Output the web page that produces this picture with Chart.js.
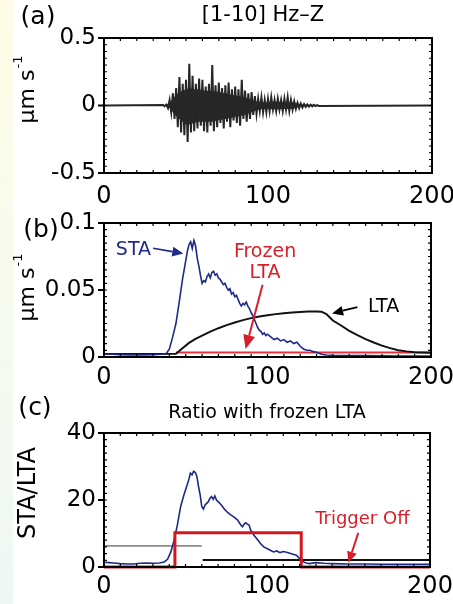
<!DOCTYPE html>
<html lang="en">
<head>
<meta charset="UTF-8">
<title>STA/LTA trigger</title>
<style>
  body { margin: 0; background: #fff; }
  #page { position: relative; width: 453px; height: 604px; background: #fff; overflow: hidden; }
  #edge { position: absolute; left: 0; top: 0; width: 13px; height: 604px;
          background: linear-gradient(#fffbe6, #f6fbee 50%, #eef8f3); }
  .panel { position: absolute; left: 0; }
  .panel canvas { display: block; }
</style>
<script src="https://cdn.jsdelivr.net/npm/chart.js"></script>
</head>
<body>
<div id="page">
  <div id="edge"></div>
  <div class="panel" style="top:0"><canvas id="chartA" width="453" height="205"></canvas></div>
  <div class="panel" style="top:205px"><canvas id="chartB" width="453" height="190"></canvas></div>
  <div class="panel" style="top:395px"><canvas id="chartC" width="453" height="209"></canvas></div>
</div>
<script>
// axis ticks
const xTicks = [0, 100, 200];
const aTicks = [-0.5, 0, 0.5];
const aTickLabels = ['-0.5', '0', '0.5'];
const bTicks = [0, 0.05, 0.1];
const bTickLabels = ['0', '0.05', '0.1'];
const cTicks = [0, 20, 40];
const cTickLabels = ['0', '20', '40'];

// (a) vertical velocity [1-10] Hz, one sample per second from seisStart
const seisStart = 36;
const seisValues = [
  0.004, -0.005, 0.006, -0.02, 0.04, -0.05, 0.09, -0.1, 0.13, -0.16,
  0.21, -0.2, 0.16, -0.22, 0.19, -0.27, 0.31, -0.2, 0.22, -0.19,
  0.16, -0.17, 0.2, -0.15, 0.19, -0.19, 0.14, -0.2, 0.16, -0.15,
  0.3, -0.19, 0.15, -0.16, 0.17, -0.13, 0.13, -0.17, 0.15, -0.12,
  0.17, -0.16, 0.12, -0.11, 0.14, -0.13, 0.12, -0.15, 0.19, -0.1,
  0.11, -0.12, 0.09, -0.1, 0.1, -0.07, 0.07, -0.06, 0.05, -0.04,
  0.06, -0.05, 0.04, -0.05, 0.05, -0.04, 0.06, -0.03, 0.04, -0.04,
  0.05, -0.03, 0.04, -0.04, 0.05, -0.03, 0.06, -0.04, 0.04, -0.03,
  0.03, -0.025, 0.02, -0.02, 0.015, -0.015, 0.01, -0.01, 0.008, -0.008,
  0.006, -0.006, 0.005, -0.004, 0.003, -0.003
];
// dense core of the wavetrain (upper / lower envelope)
const bodyT = [38, 40, 42, 44, 46, 48, 50, 52, 55, 58, 62, 66, 70, 74, 78, 82, 86, 90, 93, 96,
  100, 105, 110, 115, 118, 121, 125, 130];
const bodyTop = [0.005, 0.02, 0.05, 0.08, 0.1, 0.11, 0.12, 0.13, 0.12, 0.12, 0.11, 0.11, 0.1, 0.09,
  0.08, 0.07, 0.06, 0.045, 0.03, 0.025, 0.025, 0.03, 0.025, 0.025, 0.015, 0.01, 0.005, 0.003];
const bodyBottom = [-0.005, -0.02, -0.05, -0.08, -0.1, -0.12, -0.14, -0.14, -0.13, -0.12, -0.12, -0.12,
  -0.11, -0.1, -0.09, -0.08, -0.07, -0.05, -0.035, -0.025, -0.025, -0.03, -0.025, -0.025, -0.015,
  -0.01, -0.005, -0.003];

// (b) short and long term averages
const staT = [0, 5, 10, 15, 20, 25, 30, 35, 38, 40, 42, 44, 46, 48, 50, 51, 52, 53, 54, 55,
  56, 57, 58, 59, 60, 61, 62, 63, 64, 65, 66, 67, 68, 69, 70, 71, 72, 73, 74, 75,
  76, 77, 78, 79, 80, 81, 82, 83, 84, 85, 86, 87, 88, 89, 90, 91, 92, 93, 94, 95,
  96, 97, 98, 99, 100, 102, 104, 106, 108, 110, 112, 114, 116, 118, 120, 122, 124, 126, 128, 130,
  133, 136, 140, 150, 160, 170, 180, 190, 200];
const staV = [0.0022, 0.002, 0.0018, 0.0016, 0.0015, 0.0016, 0.0018, 0.002, 0.0025, 0.006,
  0.015, 0.025, 0.041, 0.058, 0.072, 0.079, 0.084, 0.086, 0.081, 0.087,
  0.083, 0.074, 0.068, 0.061, 0.055, 0.057, 0.056, 0.06, 0.062, 0.059,
  0.063, 0.064, 0.061, 0.062, 0.059, 0.058, 0.056, 0.054, 0.055, 0.052,
  0.05, 0.051, 0.047, 0.048, 0.045, 0.046, 0.043, 0.04, 0.038, 0.04,
  0.039, 0.041, 0.038, 0.036, 0.033, 0.031, 0.028, 0.025, 0.022, 0.02,
  0.019, 0.017, 0.018, 0.016, 0.017, 0.015, 0.013, 0.014, 0.012, 0.013,
  0.011, 0.012, 0.01, 0.011, 0.008, 0.006, 0.005, 0.005, 0.004, 0.0035,
  0.002, 0.0015, 0.0012, 0.001, 0.001, 0.0009, 0.0008, 0.0008, 0.0008];
const ltaT = [0, 44, 48, 52, 56, 60, 65, 70, 75, 80, 85, 90, 95, 100, 105, 110, 115, 120, 125, 130,
  133, 136, 140, 145, 150, 155, 160, 165, 170, 175, 180, 185, 190, 195, 200];
const ltaV = [0.0022, 0.0025, 0.0065, 0.0105, 0.0135, 0.016, 0.019, 0.0215, 0.0238, 0.0258,
  0.0275, 0.029, 0.0302, 0.0312, 0.032, 0.0327, 0.0332, 0.0336, 0.0339, 0.034,
  0.0338, 0.032, 0.0272, 0.0235, 0.0195, 0.0163, 0.0133, 0.0108, 0.0085, 0.0066,
  0.005, 0.0042, 0.0036, 0.0034, 0.0032];
const frozenT = [44, 200];
const frozenV = [0.0033, 0.0033];

// (c) STA over frozen LTA, trigger state and thresholds
const ratioT = [0, 3, 6, 10, 14, 18, 22, 26, 30, 34, 37, 39, 41, 43, 45, 47, 49, 51, 52, 53,
  54, 55, 56, 57, 58, 59, 60, 61, 62, 63, 64, 65, 66, 67, 68, 69, 70, 72, 74, 76,
  78, 80, 82, 84, 85, 86, 87, 88, 89, 90, 92, 94, 96, 98, 100, 102, 104, 106, 108, 110,
  112, 114, 116, 118, 120, 122, 124, 126, 130, 135, 140, 150, 160, 170, 180, 190, 200];
const ratioV = [1.4, 1.3, 1.2, 1.0, 0.9, 0.9, 1.1, 1.2, 1.1, 1.2, 1.5, 2.3, 4.5, 8, 12.5, 18, 21.5, 24.5, 26, 28,
  27.5, 28.6, 28.2, 27, 24, 21.5, 18, 17.3, 18.5, 19, 19.5, 20.5, 21, 20.2, 21.2, 20, 19.5, 18.5, 17.2, 16.2,
  15.5, 14.8, 14, 12.5, 12, 12.8, 13.2, 12.8, 12.5, 11, 9.5, 8.3, 7, 6, 5.5, 5, 4.5, 4.8, 4.3, 4.6,
  4.4, 4.1, 3.8, 3.5, 2.5, 1.6, 1.2, 1.0, 1.3, 1.1, 1.0, 0.9, 0.9, 0.8, 0.8, 0.8, 0.8];
const trigT = [0, 43.5, 43.5, 121, 121, 200];
const trigV = [0, 0, 10.2, 10.2, 0, 0];
const onLevelT = [0, 60];
const onLevelV = [6.3, 6.3];
const offLevelT = [60.5, 200];
const offLevelV = [2.1, 2.1];

const FONT = "'DejaVu Sans', sans-serif";
Chart.defaults.font.family = FONT;
Chart.defaults.color = '#000';

const pts = (t, v) => t.map((x, i) => ({ x: x, y: v[i] }));
const seisPts = [{ x: 0, y: 0 }]
  .concat(seisValues.map((v, i) => ({ x: seisStart + i, y: v })))
  .concat([{ x: 200, y: 0 }]);

function line(data, color, width, order) {
  return { data: data, showLine: true, borderColor: color, borderWidth: width,
           pointRadius: 0, tension: 0, clip: 4, order: order };
}

function text(ctx, str, x, y, size, color, align) {
  ctx.font = size + 'px ' + FONT;
  ctx.fillStyle = color || '#000';
  ctx.textAlign = align || 'center';
  ctx.textBaseline = 'middle';
  ctx.fillText(str, x, y);
}

function arrow(ctx, x1, y1, x2, y2, color, lw, head, half) {
  const ang = Math.atan2(y2 - y1, x2 - x1);
  const bx = x2 - head * Math.cos(ang), by = y2 - head * Math.sin(ang);
  ctx.strokeStyle = color; ctx.fillStyle = color; ctx.lineWidth = lw;
  ctx.beginPath(); ctx.moveTo(x1, y1); ctx.lineTo(bx, by); ctx.stroke();
  ctx.beginPath();
  ctx.moveTo(x2, y2);
  ctx.lineTo(bx + half * Math.sin(ang), by - half * Math.cos(ang));
  ctx.lineTo(bx - half * Math.sin(ang), by + half * Math.cos(ang));
  ctx.closePath(); ctx.fill();
}

// rotated unit label with optional superscript
function yTitle(ctx, main, sup, cx, cy, size) {
  ctx.save();
  ctx.translate(cx, cy);
  ctx.rotate(-Math.PI / 2);
  ctx.font = size + 'px ' + FONT;
  const w1 = ctx.measureText(main).width;
  ctx.font = '13px ' + FONT;
  const w2 = sup ? ctx.measureText(sup).width : 0;
  const x0 = -(w1 + w2) / 2;
  text(ctx, main, x0, 0, size, '#000', 'left');
  if (sup) text(ctx, sup, x0 + w1 + 1, -9, 13, '#000', 'left');
  ctx.restore();
}

// frame with inward minor ticks, outward major ticks on the left
function framePlugin(yMinor, yMajor, extra) {
  return {
    id: 'frame',
    afterDraw(chart) {
      const ctx = chart.ctx, a = chart.chartArea;
      const x = chart.scales.x, y = chart.scales.y;
      ctx.save();
      ctx.strokeStyle = '#000';
      ctx.lineWidth = 1.2;
      ctx.beginPath();
      for (let v = 0; v <= 200; v += 10) {
        const px = x.getPixelForValue(v);
        ctx.moveTo(px, a.bottom); ctx.lineTo(px, a.bottom - 3);
        ctx.moveTo(px, a.top); ctx.lineTo(px, a.top + 3);
      }
      const n = Math.round((y.max - y.min) / yMinor);
      for (let i = 0; i <= n; i++) {
        const py = y.getPixelForValue(y.min + i * yMinor);
        ctx.moveTo(a.left, py); ctx.lineTo(a.left + 3, py);
        ctx.moveTo(a.right, py); ctx.lineTo(a.right - 3, py);
      }
      ctx.stroke();
      ctx.lineWidth = 2;
      ctx.beginPath();
      yMajor.forEach(v => {
        const py = y.getPixelForValue(v);
        ctx.moveTo(a.left - 6, py); ctx.lineTo(a.left, py);
      });
      ctx.stroke();
      ctx.strokeRect(a.left, a.top, a.right - a.left, a.bottom - a.top);
      extra(ctx, x, y);
      ctx.restore();
    }
  };
}

function panel(id, datasets, yMin, yMax, yTicks, yLabels, layout, plugin) {
  return new Chart(document.getElementById(id), {
    type: 'scatter',
    data: { datasets: datasets },
    options: {
      responsive: false,
      animation: false,
      layout: { padding: { top: layout.top, right: layout.right, left: 0, bottom: 0 } },
      plugins: { legend: { display: false }, tooltip: { enabled: false } },
      scales: {
        x: {
          type: 'linear', min: 0, max: 200,
          afterBuildTicks: s => { s.ticks = xTicks.map(v => ({ value: v })); },
          afterFit: s => { s.height = layout.xh; s.paddingLeft = 0; s.paddingRight = 0; },
          grid: { display: false, drawTicks: false },
          border: { display: false },
          ticks: { font: { size: 24 }, padding: layout.xpad, maxRotation: 0, autoSkip: false }
        },
        y: {
          type: 'linear', min: yMin, max: yMax,
          afterBuildTicks: s => { s.ticks = yTicks.map(v => ({ value: v })); },
          afterFit: s => { s.width = 104; s.paddingTop = 0; s.paddingBottom = 0; },
          grid: { display: false, drawTicks: false },
          border: { display: false },
          ticks: { font: { size: 23 }, padding: 8, autoSkip: false,
                   callback: (v, i) => yLabels[i] }
        }
      }
    },
    plugins: [plugin]
  });
}

// (a)
panel('chartA', [
    line(seisPts, '#262626', 2, 0),
    Object.assign(line(pts(bodyT, bodyTop), '#2b2b2b', 0, 1), { fill: '+1', backgroundColor: '#2e2e2e' }),
    line(pts(bodyT, bodyBottom), '#2b2b2b', 0, 1)
  ], -0.5, 0.5, aTicks, aTickLabels,
  { top: 38, right: 21, xh: 32, xpad: 9 },
  framePlugin(0.05, aTicks, (ctx) => {
    text(ctx, '[1-10] Hz\u2013Z', 263, 16, 21);
    text(ctx, '(a)', 38, 17, 25);
    yTitle(ctx, '\u03bcm s', '-1', 28, 90, 22);
  }));

// (b)
panel('chartB', [
    line(pts(staT, staV), '#1f2a88', 1.6, 0),
    line(pts(ltaT, ltaV), '#111', 2, 1),
    line(pts(frozenT, frozenV), '#e5323c', 2, 2)
  ], 0, 0.1, bTicks, bTickLabels,
  { top: 18, right: 22, xh: 38, xpad: 6 },
  framePlugin(0.005, bTicks, (ctx, x, y) => {
    const X = v => x.getPixelForValue(v), Y = v => y.getPixelForValue(v);
    text(ctx, '(b)', 41, 25, 25);
    yTitle(ctx, '\u03bcm s', '-1', 28, 83, 22);
    text(ctx, 'STA', X(18), Y(0.080), 19, '#1f2a88');
    arrow(ctx, X(30), Y(0.0812), X(48.5), Y(0.0772), '#1f2a88', 1.6, 11, 5);
    text(ctx, 'Frozen', X(98.5), Y(0.078), 19, '#d81e28');
    text(ctx, 'LTA', X(98.5), Y(0.0625), 19, '#d81e28');
    arrow(ctx, X(97), Y(0.054), X(86.6), Y(0.006), '#d81e28', 2, 14, 6);
    text(ctx, 'LTA', X(171), Y(0.0373), 19, '#000');
    arrow(ctx, X(155), Y(0.0373), X(139.5), Y(0.0325), '#000', 1.8, 11, 5);
  }));

// (c)
panel('chartC', [
    line(pts(trigT, trigV), '#d8141c', 3, 0),
    line(pts(ratioT, ratioV), '#1f2a88', 1.6, 1),
    line(pts(onLevelT, onLevelV), '#8c8c8c', 1.6, 2),
    line(pts(offLevelT, offLevelV), '#111', 2, 2)
  ], 0, 40, cTicks, cTickLabels,
  { top: 38, right: 23, xh: 37, xpad: 5 },
  framePlugin(2, cTicks, (ctx, x, y) => {
    const X = v => x.getPixelForValue(v), Y = v => y.getPixelForValue(v);
    text(ctx, 'Ratio with frozen LTA', 267, 18, 19);
    text(ctx, '(c)', 35, 13, 25);
    yTitle(ctx, 'STA/LTA', '', 29, 98, 24);
    text(ctx, 'Trigger Off', X(158.5), Y(14.3), 18, '#d81e28');
    arrow(ctx, X(156), Y(10.2), X(150), Y(1.3), '#d81e28', 2, 11, 5);
  }));
</script>
</body>
</html>
